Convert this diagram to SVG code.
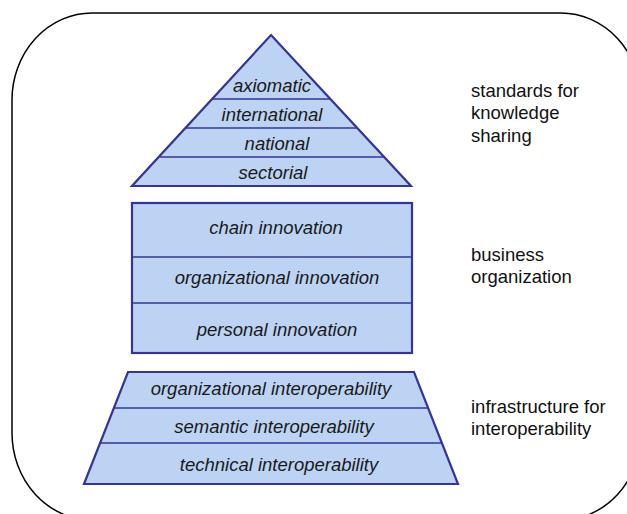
<svg xmlns="http://www.w3.org/2000/svg" width="627" height="514" viewBox="0 0 627 514">
<style>
.shape{fill:#BDD3F3;stroke:#34349A;stroke-width:2.2;stroke-linejoin:miter}
.div{stroke:#34349A;stroke-width:1.6;fill:none}
.in{font-family:"Liberation Sans",Arial,sans-serif;font-size:18.5px;font-style:italic;fill:#1a1a1a;text-anchor:middle}
.lbl{font-family:"Liberation Sans",Arial,sans-serif;font-size:18.5px;fill:#111}
</style>
<rect x="12" y="13" width="629" height="507" rx="80" ry="87" fill="#fff" stroke="#000" stroke-width="1.5"/>
<g id="standards">
<polygon class="shape" points="271,35 411,186 132,186"/>
<line class="div" x1="212" y1="99" x2="330" y2="99"/>
<line class="div" x1="186" y1="128" x2="357" y2="128"/>
<line class="div" x1="159" y1="157" x2="384" y2="157"/>
<text class="in" x="272" y="92">axiomatic</text>
<text class="in" x="272" y="121">international</text>
<text class="in" x="277" y="150">national</text>
<text class="in" x="273" y="179">sectorial</text>
</g>
<g id="business">
<rect class="shape" x="132" y="203" width="280" height="150"/>
<line class="div" x1="132" y1="257" x2="412" y2="257"/>
<line class="div" x1="132" y1="303" x2="412" y2="303"/>
<text class="in" x="276" y="234">chain innovation</text>
<text class="in" x="277" y="284">organizational innovation</text>
<text class="in" x="277" y="336">personal innovation</text>
</g>
<g id="infrastructure">
<polygon class="shape" points="128,372 414,372 458,484 84,484"/>
<line class="div" x1="114" y1="408" x2="428" y2="408"/>
<line class="div" x1="100" y1="443" x2="442" y2="443"/>
<text class="in" x="271" y="395">organizational interoperability</text>
<text class="in" x="274" y="433">semantic interoperability</text>
<text class="in" x="279" y="471">technical interoperability</text>
</g>
<g id="labels">
<text class="lbl" x="471" y="97">standards for</text>
<text class="lbl" x="471" y="119">knowledge</text>
<text class="lbl" x="471" y="142">sharing</text>
<text class="lbl" x="471" y="261">business</text>
<text class="lbl" x="471" y="283">organization</text>
<text class="lbl" x="471" y="413">infrastructure for</text>
<text class="lbl" x="471" y="435">interoperability</text>
</g>
<g id="connectors"/>
</svg>
